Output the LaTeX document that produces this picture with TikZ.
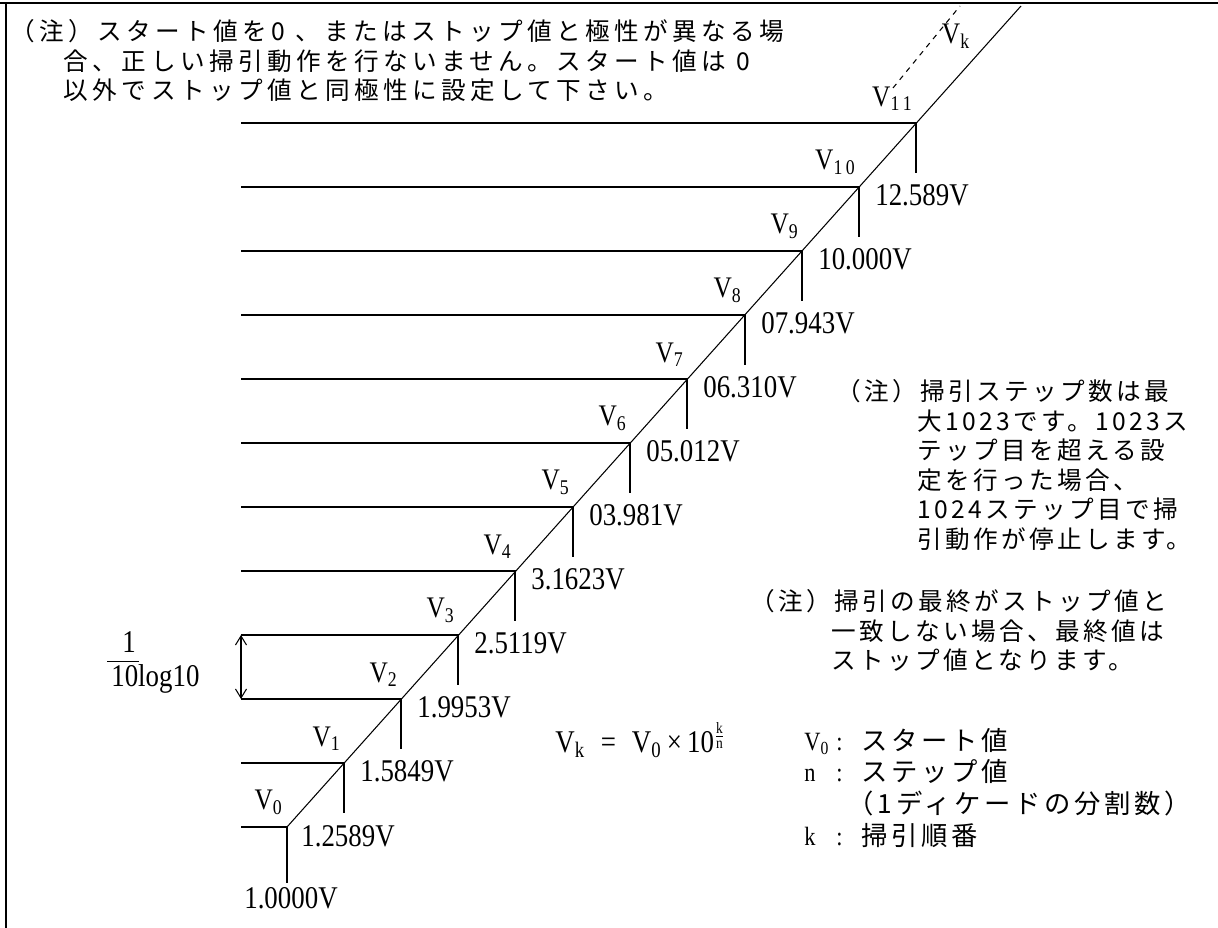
\documentclass[tikz,border=0pt]{standalone}
\usepackage{amsmath}
\usepackage{fontspec}
\setmainfont{Liberation Serif}[FakeStretch=0.85]
\newfontfamily\jpfont{Noto Sans CJK JP}[LetterSpace=14]
\newfontfamily\jpwidefont{Noto Sans CJK JP}[LetterSpace=18]
\usetikzlibrary{arrows.meta, positioning}

\begin{document}
\begin{tikzpicture}[x=0.02cm, y=-0.02cm, thin]

\tikzstyle{note} = [inner sep=0pt, anchor=north west, align=left, font={\jpfont\fontsize{14}{16.85}\selectfont}]
\tikzstyle{val} = [inner sep=0pt, font={\fontsize{18}{20}\selectfont}]
\tikzstyle{vlabel} = [inner sep=0pt, anchor=south east, font={\fontsize{17}{20}\selectfont}]
\tikzstyle{stair} = [line width=0.6pt]
\tikzstyle{dim} = [stair, {Straight Barb[length=1.8mm, width=2.2mm]}-{Straight Barb[length=1.8mm, width=2.2mm]}]

\useasboundingbox (0,0) rectangle (1218,928);

% Frame
\draw[line width=1.1pt] (0,3) -- (1218,3);
\draw[line width=1.1pt] (6,3) -- (6,928);

% Steps
\coordinate (left) at (241,0);
\coordinate (v0) at (287,827);
\coordinate (v1) at (344,763);
\coordinate (v2) at (401,699);
\coordinate (v3) at (458,635);
\coordinate (v4) at (515,571);
\coordinate (v5) at (573,507);
\coordinate (v6) at (630,443);
\coordinate (v7) at (687,379);
\coordinate (v8) at (745,315);
\coordinate (v9) at (802,251);
\coordinate (v10) at (859,187);
\coordinate (v11) at (916,123);
\coordinate (vtop) at (1021,6);
\coordinate (dk1) at (893,88);
\coordinate (dk2) at (960,6);

% Notes
\node[note, font={\jpwidefont\fontsize{14}{16.85}\selectfont}] (note1) at (10,19) {（注）スタート値を0 、またはストップ値と極性が異なる場\\
\phantom{（注}合、正しい掃引動作を行ないません。スタート値は 0\\
\phantom{（注}以外でストップ値と同極性に設定して下さい。};
\node[note] (note2) at (836,379) {（注）掃引ステップ数は最\\
\phantom{（注）}大1023です。1023ス\\
\phantom{（注）}テップ目を超える設\\
\phantom{（注）}定を行った場合、\\
\phantom{（注）}1024ステップ目で掃\\
\phantom{（注）}引動作が停止します。};
\node[note] (note3) at (750,589) {（注）掃引の最終がストップ値と\\
\phantom{（注）}一致しない場合、最終値は\\
\phantom{（注）}ストップ値となります。};

% Step labels
\node[vlabel] (lv0) at ([shift={(-4,-12)}]v0) {V\textsubscript{0}};
\node[vlabel] (lv1) at ([shift={(-3,-12)}]v1) {V\textsubscript{1}};
\node[vlabel] (lv2) at ([shift={(-3,-12)}]v2) {V\textsubscript{2}};
\node[vlabel] (lv3) at ([shift={(-3,-12)}]v3) {V\textsubscript{3}};
\node[vlabel] (lv4) at ([shift={(-3,-12)}]v4) {V\textsubscript{4}};
\node[vlabel] (lv5) at ([shift={(-3,-12)}]v5) {V\textsubscript{5}};
\node[vlabel] (lv6) at ([shift={(-3,-12)}]v6) {V\textsubscript{6}};
\node[vlabel] (lv7) at ([shift={(-3,-12)}]v7) {V\textsubscript{7}};
\node[vlabel] (lv8) at ([shift={(-3,-12)}]v8) {V\textsubscript{8}};
\node[vlabel] (lv9) at ([shift={(-3,-12)}]v9) {V\textsubscript{9}};
\node[vlabel] (lv10) at ([shift={(-3,-12)}]v10) {V\textsubscript{1\,0}};
\node[vlabel] (lv11) at ([shift={(-3,-12)}]v11) {V\textsubscript{1\,1}};
\node[vlabel, anchor=center] (lvk) at (956,36) {V\textsubscript{k}};

% Values
\node[val, anchor=north] (val0) at ([shift={(4,60)}]v0) {1.0000V};
\node[val, anchor=west] (val1) at ([shift={(14,9)}]v0) {1.2589V};
\node[val, anchor=west] (val2) at ([shift={(16,8)}]v1) {1.5849V};
\node[val, anchor=west] (val3) at ([shift={(16,8)}]v2) {1.9953V};
\node[val, anchor=west] (val4) at ([shift={(16,8)}]v3) {2.5119V};
\node[val, anchor=west] (val5) at ([shift={(16,8)}]v4) {3.1623V};
\node[val, anchor=west] (val6) at ([shift={(16,8)}]v5) {03.981V};
\node[val, anchor=west] (val7) at ([shift={(16,8)}]v6) {05.012V};
\node[val, anchor=west] (val8) at ([shift={(16,8)}]v7) {06.310V};
\node[val, anchor=west] (val9) at ([shift={(16,8)}]v8) {07.943V};
\node[val, anchor=west] (val10) at ([shift={(16,8)}]v9) {10.000V};
\node[val, anchor=west] (val11) at ([shift={(16,8)}]v10) {12.589V};

% Step size and formula
\node[val, anchor=west] (dblog) at (111,679) {10log10};
\node[val] (one) at (129,642) {1};
\node[val, anchor=west] (formula) at (555,740) {V\textsubscript{k}\enspace=\enspace V\textsubscript{0}\,×\,10$^{\frac{\text{k}}{\text{n}}}$};
\node[inner sep=0pt, anchor=north west, font={\fontsize{15}{17.6}\selectfont}] (legend) at (804,728)
  {\begin{tabular}{@{}l@{\hspace{4pt}}c@{\hspace{11pt}}l@{}}
   V\textsubscript{0} & : & {\jpfont スタート値} \\
   n & : & {\jpfont ステップ値} \\
     &   & \hspace*{-8pt}{\jpfont （1ディケードの分割数）} \\
   k & : & {\jpfont 掃引順番}
   \end{tabular}};

% Connections
\draw[stair] (v0) -- (vtop);
\draw[stair, dashed] (dk1) -- (dk2);
\draw[stair] (left |- v0) -- (v0) -- ++(0,56);
\draw[stair] (left |- v1) -- (v1) -- ++(0,50);
\draw[stair] (left |- v2) -- (v2) -- ++(0,50);
\draw[stair] (left |- v3) -- (v3) -- ++(0,50);
\draw[stair] (left |- v4) -- (v4) -- ++(0,50);
\draw[stair] (left |- v5) -- (v5) -- ++(0,50);
\draw[stair] (left |- v6) -- (v6) -- ++(0,50);
\draw[stair] (left |- v7) -- (v7) -- ++(0,50);
\draw[stair] (left |- v8) -- (v8) -- ++(0,50);
\draw[stair] (left |- v9) -- (v9) -- ++(0,50);
\draw[stair] (left |- v10) -- (v10) -- ++(0,50);
\draw[stair] (left |- v11) -- (v11) -- ++(0,50);
\draw[dim] (left |- v3) -- (left |- v2);
\draw[stair] ([shift={(-4,-3)}]dblog.north west) -- ++(32,0);

\end{tikzpicture}
\end{document}
